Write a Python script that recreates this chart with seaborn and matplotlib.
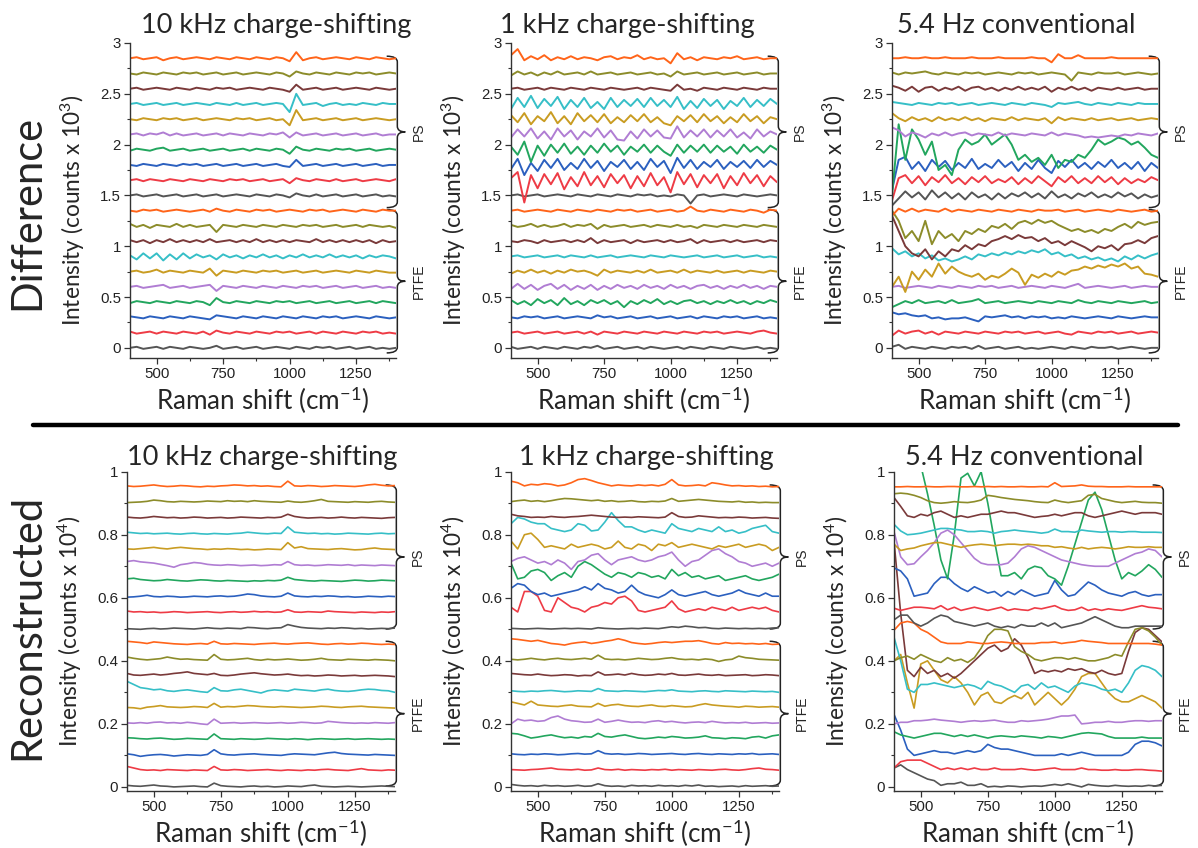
import numpy as np
import pandas as pd
import matplotlib
matplotlib.use('Agg')
import matplotlib.pyplot as plt
import seaborn as sns
from matplotlib.path import Path
from matplotlib.patches import PathPatch
from matplotlib.lines import Line2D
from matplotlib.ticker import AutoMinorLocator

# ─────────────────────────────────────────
# Data: each trace = baseline + deviations (sampled 400..1400 cm-1, step 25)
# traces ordered bottom -> top: PTFE (10) then PS (10)
# ─────────────────────────────────────────
DIFF_OFFSETS = [0.00, 0.15, 0.30, 0.45, 0.60, 0.75, 0.90, 1.05, 1.20, 1.35,
                1.50, 1.65, 1.80, 1.95, 2.10, 2.25, 2.40, 2.55, 2.70, 2.85]
RECON_OFFSETS = [0.00, 0.05, 0.10, 0.15, 0.20, 0.25, 0.30, 0.35, 0.40, 0.45,
                 0.50, 0.55, 0.60, 0.65, 0.70, 0.75, 0.80, 0.85, 0.90, 0.95]
DIFF_UNIT = 0.01    # deviations in 0.01 x 10^3 counts
RECON_UNIT = 0.001  # deviations in 0.001 x 10^4 counts

TRACE_COLOURS = ['#555555', '#ee3b45', '#2b60bf', '#22a65e', '#b07dd3',
                 '#c99c22', '#36bfc7', '#7a3a3a', '#8c8c2a', '#ff6419'] * 2

# Difference, 10 kHz charge-shifting
DIFF_10K = [
    [0,1,-1,0,1,-1,1,0,-1,1,0,-1,0,2,-1,0,1,-1,0,1,-1,0,1,0,-1,1,0,-1,1,0,1,-1,0,1,-1,0,1,-1,0,-1,0],
    [1,-1,0,1,-1,1,0,-1,1,0,-1,1,-2,2,0,-1,1,0,-1,1,0,-1,1,0,1,-1,0,1,-1,1,0,-1,1,0,-1,1,0,1,-1,0,-1],
    [1,0,-1,1,0,-1,1,0,-1,1,0,-1,-2,2,1,0,-1,1,0,-1,1,0,-1,1,0,-1,1,0,-1,1,0,1,-1,0,1,0,-1,1,0,-1,0],
    [-1,1,0,-1,1,0,-1,1,0,-1,1,0,-3,4,0,-1,1,0,-1,1,0,-1,1,0,1,-1,0,1,-1,0,1,-1,0,1,-1,0,1,-1,1,0,-1],
    [0,1,-1,0,1,2,-1,0,1,-1,0,1,2,-4,1,0,-1,1,0,-1,1,0,-1,1,0,-1,1,0,1,-1,0,1,-1,0,1,-1,0,1,-1,0,-1],
    [0,1,-1,0,2,-1,1,0,-1,1,0,-1,3,-4,1,0,-1,1,0,-1,1,0,1,-1,0,1,-1,0,1,-1,0,1,0,-1,1,0,-1,1,0,-1,-1],
    [1,-3,3,-2,3,-4,2,-3,3,-2,2,-1,1,-3,2,-1,1,-2,1,-1,2,-1,1,-2,1,-1,2,-1,1,-1,2,-1,1,-1,1,-2,1,-1,1,0,-2],
    [1,-1,1,-2,1,-1,2,-1,1,-1,1,-1,2,-1,0,1,-1,1,-1,2,-1,1,-1,1,-1,1,0,-1,2,-1,1,-1,1,-1,1,-1,1,-2,1,-1,0],
    [2,-1,1,-2,1,0,-1,2,-1,1,-1,0,1,-6,1,0,-1,1,0,-1,1,0,-1,1,0,-1,1,0,1,-1,0,1,-1,0,1,-1,1,0,-1,0,-2],
    [0,-1,1,0,1,-1,0,1,0,-1,0,1,-1,2,0,-1,1,0,-1,1,0,1,-1,0,1,0,-1,1,0,1,-1,0,1,0,-1,1,0,-1,1,0,0],
    [0,1,-1,0,1,-1,0,1,-1,0,1,-1,0,1,-1,0,1,0,-1,1,0,-1,1,0,-2,2,0,-1,1,-1,0,1,-1,0,1,-1,0,1,-1,0,-1],
    [0,1,-1,1,0,-1,1,0,-1,1,0,-1,1,0,-1,1,0,1,-1,0,1,-1,0,1,-3,2,0,-1,1,0,-1,1,-1,0,1,-1,0,1,0,-1,1],
    [0,-1,1,0,-1,1,0,-1,1,0,1,-1,0,1,-1,0,1,-1,0,1,-1,0,1,-1,-2,5,-1,0,1,-1,0,1,-1,0,1,-1,0,1,-1,0,0],
    [-1,1,0,-1,1,2,-1,0,1,-1,0,1,-1,0,1,-1,0,1,-1,1,0,-1,1,0,-4,3,0,-1,1,0,-1,1,0,1,-1,0,1,-1,0,1,0],
    [0,1,-1,1,0,2,-1,1,-1,0,1,-1,0,1,-1,1,0,-1,1,0,-1,1,0,2,-3,2,-1,0,1,-1,0,1,-1,0,1,-1,0,1,-1,0,0],
    [0,-1,1,0,-1,1,0,1,-1,0,1,-1,0,1,0,-1,1,0,1,-1,0,1,-1,0,-6,9,-1,0,1,-1,0,1,-1,0,1,-1,0,1,0,-1,0],
    [0,1,-1,0,1,-1,0,1,-1,0,1,0,-1,1,0,-1,1,-1,0,1,-1,0,1,0,-8,10,-1,0,1,-2,0,1,-1,0,-1,1,0,-1,1,0,0],
    [0,1,-1,0,1,0,-1,1,0,-1,1,0,-1,1,0,1,-1,0,1,0,-1,1,0,-1,-3,4,-1,0,1,-1,0,1,-1,0,1,0,-1,1,0,-1,0],
    [0,-1,1,0,-1,1,0,-1,1,0,1,-1,0,1,-1,0,1,-1,0,1,0,-1,1,0,-3,2,0,-1,1,0,-1,1,0,-1,1,0,1,-1,0,1,0],
    [0,1,-1,0,1,-2,0,1,-1,0,1,0,-1,1,0,-1,1,0,-1,1,0,-1,1,0,-3,6,-2,0,1,-1,0,1,0,-1,1,0,-1,1,0,-1,0],
]

# Difference, 1 kHz charge-shifting
DIFF_1K = [
    [1,-1,0,1,-1,1,0,-1,1,0,-1,1,0,2,-1,0,1,-1,0,1,-1,1,0,-1,0,1,-1,1,0,-1,1,0,-1,1,0,-1,0,1,-1,0,-1],
    [0,1,-1,0,1,-1,0,1,-1,0,1,-1,1,-2,1,0,-1,1,0,-1,1,0,-1,1,0,-1,1,0,-1,1,0,1,-1,0,1,0,-1,1,2,0,-1],
    [0,-1,1,0,1,-1,0,1,-1,0,1,0,-1,2,0,1,-1,0,1,-1,0,1,-1,0,1,-1,0,1,-1,1,0,-1,1,0,1,-1,0,1,-1,0,-1],
    [2,-2,1,-3,3,-1,2,-3,4,-2,1,-3,2,-1,2,-2,1,-5,1,-2,2,-1,3,-2,1,-2,1,2,-1,1,-2,1,-1,2,-1,1,-2,1,-1,2,0],
    [-2,3,-2,2,-3,1,3,-2,2,-3,1,-2,2,-3,1,-2,2,-1,1,-2,2,-1,1,-2,2,-1,1,-2,1,2,-1,1,-2,1,-1,2,-1,1,-2,1,0],
    [-2,1,-1,2,-1,1,-2,1,-1,2,0,1,-1,-4,2,-1,1,0,-1,1,-1,2,-1,0,1,-1,2,-1,1,0,-1,1,-1,0,1,-1,1,0,-1,1,0],
    [0,1,-1,0,1,-1,0,1,-1,1,0,-1,1,-1,0,1,-1,0,1,0,-1,1,0,-1,1,0,-1,0,1,-1,0,1,-1,0,1,-1,0,1,-1,0,-1],
    [0,-1,1,0,-2,1,-1,0,1,-1,1,-1,3,-2,1,-1,0,1,-2,1,-1,0,1,-1,1,-1,0,2,-2,1,-1,0,1,-1,1,-1,0,1,-1,1,0],
    [1,-1,0,2,-1,1,-1,0,2,-1,1,0,2,-3,1,-1,0,1,-1,0,1,-1,1,0,-1,1,-1,0,-2,1,0,-1,1,0,-1,1,0,-1,1,0,-1],
    [0,1,-1,0,1,0,-1,1,0,-1,1,0,-1,1,0,-1,1,0,1,-1,0,1,-1,0,1,-1,0,4,0,-1,1,0,-1,1,0,-1,1,0,-2,1,0],
    [0,1,-1,0,1,-1,0,1,0,-1,1,0,-1,1,0,-1,1,0,-1,1,0,1,-1,0,-1,1,0,-8,0,1,-1,0,1,0,-1,1,0,-1,0,1,0],
    [2,8,-22,5,-8,6,-4,7,-9,3,-6,8,-5,4,-7,6,-3,5,-8,4,-6,7,-5,3,-12,8,-4,6,-7,5,-3,6,-8,4,-5,7,-3,5,-6,4,-2],
    [-4,6,-10,2,-6,5,-3,6,-5,2,-4,6,-3,4,-6,3,-2,5,-4,3,-5,6,-2,4,-8,7,-3,5,-4,3,-2,5,-4,3,-2,4,-3,5,-2,4,0],
    [3,-5,8,-12,4,-6,5,-3,6,-4,3,-5,4,-3,6,-2,4,-5,3,-2,5,-3,4,-2,-6,5,-3,4,-2,5,-3,4,-2,3,-4,5,-2,3,-3,4,0],
    [-3,5,-2,6,-4,3,-5,6,-2,4,-5,3,-2,6,-3,4,-5,-6,3,-4,5,-2,4,-3,-4,8,-3,4,-2,5,-3,4,-2,5,-3,2,-4,5,-2,3,0],
    [4,-3,6,-5,3,-2,7,-4,3,-5,6,-2,4,-3,5,-4,2,-3,4,-2,5,-3,2,-4,-6,3,-2,4,-3,5,-2,3,-4,2,-3,5,-2,3,-4,2,0],
    [-5,6,-3,8,-4,5,-2,7,-5,4,-3,6,-4,2,-5,6,-3,4,-2,5,-3,6,-2,4,-3,7,-5,3,-4,5,-2,4,-5,3,-2,6,-3,4,-2,5,0],
    [0,1,-1,0,1,-1,1,0,-1,1,0,-1,1,0,-1,1,0,-1,0,1,-1,1,0,-1,-2,4,-1,0,-2,1,0,-1,1,0,-1,1,0,-1,1,0,0],
    [-2,2,-1,1,-2,1,-1,2,-1,0,1,-1,2,-1,0,1,-1,0,1,-1,0,1,-1,0,-3,2,-1,0,1,-1,0,1,-1,0,1,-1,0,1,-1,0,0],
    [3,9,-2,2,-1,3,-2,1,-1,2,-1,1,0,-2,1,2,-1,1,0,3,-1,1,-1,0,-5,5,-1,1,-2,1,0,-1,1,0,2,-1,0,1,-1,0,0],
]

# Difference, 5.4 Hz conventional
DIFF_54 = [
    [1,3,-1,1,0,-1,1,0,-1,1,0,1,-1,2,-1,0,1,-1,0,1,-1,0,-1,0,1,0,-1,1,0,-1,1,0,0,1,-1,0,1,0,-1,0,0],
    [-3,2,-1,1,2,-1,1,-2,1,0,-1,1,0,-1,1,0,-1,1,0,1,-1,0,1,-1,0,1,-1,-2,1,0,-1,1,0,1,-1,0,1,-1,0,1,0],
    [5,3,4,2,1,2,-1,0,-2,-1,-1,0,-2,-4,1,0,1,2,0,1,-1,1,0,1,-1,0,-1,1,0,-1,0,1,0,-1,1,0,-1,0,1,0,0],
    [-5,-2,1,-1,2,-1,0,1,-1,2,-1,0,1,3,-1,0,1,-1,0,1,0,-1,1,0,-1,1,0,-1,2,0,-1,1,0,-1,1,0,-1,0,1,-1,0],
    [0,1,-1,0,1,0,-1,1,0,-1,1,0,-1,1,0,1,-1,0,1,-1,0,1,0,-1,1,0,-1,1,3,-1,0,1,0,-1,0,1,-1,0,1,0,0],
    [-15,-5,-20,0,-8,2,-5,8,-2,5,0,-3,-5,-2,-8,-4,-6,-2,3,-1,-13,-3,-6,-2,-5,0,-3,1,2,5,3,6,4,7,5,8,3,5,-2,-3,-5],
    [8,2,5,0,3,-2,1,-4,-2,-5,-3,0,-3,2,0,3,1,4,2,5,3,6,4,7,2,4,0,2,-2,0,-3,-1,-4,-2,-5,0,-3,1,-2,1,3],
    [25,10,-5,-12,-15,-8,-18,-10,-15,-8,-10,-4,-8,-3,-5,0,2,5,2,6,3,4,0,3,-2,0,-4,0,-3,-6,-10,-5,-7,-4,-9,-3,-2,1,-2,3,5],
    [15,5,-12,-5,-15,5,-18,-5,-12,-8,-15,-5,-8,-3,-6,0,-2,2,-3,3,5,2,6,3,5,1,-2,-5,-3,-6,-4,-7,-3,-5,-1,2,-2,4,1,3,4],
    [-5,2,-1,2,-1,1,0,-1,2,-1,1,0,-1,1,0,-1,1,0,-1,1,0,-1,1,0,0,1,-1,0,1,-1,0,1,0,-1,1,0,-1,0,1,-1,0],
    [-10,-3,4,-2,3,-4,5,-2,3,-3,2,-4,3,-2,1,-4,2,-3,2,-1,3,-2,2,-3,4,-2,1,-3,2,-1,3,-2,1,-2,3,-1,2,-3,1,-2,0],
    [-20,2,5,-3,4,-5,3,-2,5,-3,2,-4,3,-2,4,-3,1,-2,3,-4,2,-3,4,-1,-6,3,-2,4,-3,2,-3,4,-2,3,-4,2,-3,1,-2,3,0],
    [-25,5,8,-4,3,-6,5,-2,4,-5,2,-3,6,-4,1,-3,5,-2,3,-6,2,-4,5,-3,-8,4,-2,5,-3,2,-4,3,-2,5,-3,2,-4,3,-6,2,-3],
    [-45,25,-10,20,10,-5,8,-20,-15,-25,0,10,5,8,15,5,10,15,5,-10,-5,-12,-8,-15,-5,-18,-10,-12,-5,-8,0,10,5,8,12,10,5,8,2,-5,-8],
    [7,4,-2,2,0,-3,1,-1,2,-1,1,2,-1,1,0,-1,2,-1,1,0,-1,1,0,-1,2,-1,1,0,-1,-3,-2,-3,-2,-1,-2,0,-1,1,0,-1,1],
    [6,1,-2,2,-1,1,-2,2,-1,1,-1,2,-1,1,-2,1,0,-1,2,-1,1,0,-1,1,-4,2,-1,1,0,-1,1,-1,0,1,-1,0,1,-1,0,1,0],
    [2,1,0,-1,1,0,-1,1,0,1,-1,0,1,-1,0,1,0,-1,1,0,-1,1,0,-1,-3,1,0,1,2,0,-1,1,0,-1,1,0,-1,1,0,0,0],
    [3,1,-2,2,-3,1,2,-2,1,-1,2,-2,1,2,-1,1,-2,1,-1,2,-1,1,-1,2,-3,1,-1,2,-1,1,-2,1,0,-1,1,-1,0,1,-1,0,0],
    [1,-1,1,0,1,2,0,-1,1,0,-1,1,0,1,-1,0,1,0,-1,1,0,1,-1,0,1,0,-1,-7,1,0,-1,1,0,0,1,-1,0,1,0,-1,0],
    [0,0,1,0,0,1,0,0,1,0,0,0,1,0,0,0,1,0,0,0,0,1,0,0,-4,4,0,0,3,0,0,0,0,1,0,0,0,0,0,0,0],
]

# Reconstructed, 10 kHz charge-shifting
RECON_10K = [
    [5,3,2,4,6,3,2,0,1,2,3,1,0,12,4,2,1,0,2,3,1,2,0,1,3,2,1,4,6,2,1,0,1,2,1,0,1,2,3,2,1],
    [15,10,5,3,4,2,5,4,3,2,4,3,2,15,4,3,5,4,2,3,4,5,3,2,4,3,2,4,3,5,6,4,3,2,5,8,4,3,2,4,3],
    [5,2,-3,0,2,3,1,-2,0,2,1,0,3,18,5,2,1,3,4,5,3,2,1,0,3,5,4,3,2,5,8,10,6,4,3,2,1,3,2,1,0],
    [6,5,3,2,4,5,3,1,2,4,3,2,1,18,3,2,1,3,2,1,2,4,3,2,1,3,2,0,2,3,2,1,2,3,1,2,3,2,1,2,1],
    [3,2,4,2,5,6,3,4,2,5,3,0,-2,15,2,3,4,2,3,4,3,2,3,4,2,3,5,4,2,3,8,6,4,3,2,3,2,4,3,2,4],
    [2,1,-2,3,5,8,4,3,2,3,5,4,2,15,3,5,4,6,8,7,5,4,3,5,4,3,2,3,4,6,5,3,2,4,5,6,4,3,2,1,0],
    [35,25,15,12,8,10,5,3,6,8,5,2,0,15,5,4,8,10,6,2,-2,5,8,6,4,10,8,6,4,8,10,6,4,3,5,8,10,9,6,5,0],
    [10,5,4,6,8,5,7,10,12,15,10,8,6,10,4,3,5,8,10,12,9,7,5,6,8,5,3,4,2,3,5,4,2,3,4,2,3,4,3,2,0],
    [12,8,5,3,5,7,12,8,5,6,4,3,2,20,5,3,4,6,8,4,2,5,3,4,6,4,2,3,5,8,4,3,2,5,4,3,2,4,3,2,0],
    [12,10,8,5,10,8,6,4,3,2,4,5,3,12,4,3,5,4,3,2,4,5,6,4,3,5,6,7,5,3,2,4,5,3,4,6,5,3,2,3,2],
    [2,1,0,2,3,1,2,4,3,2,1,3,5,3,2,4,3,2,6,5,3,2,4,5,15,10,6,4,3,2,4,3,5,4,2,3,1,2,3,2,4],
    [8,5,6,4,5,3,4,6,5,3,4,5,6,4,3,5,6,4,5,7,5,6,4,5,12,5,4,6,5,4,8,6,5,4,3,5,4,3,5,4,6],
    [2,3,5,8,4,3,5,4,2,3,5,4,3,5,6,4,5,8,12,10,6,4,3,5,15,6,4,3,5,4,6,5,3,4,2,3,5,4,3,5,4],
    [10,12,8,6,4,5,8,6,4,3,5,7,6,4,3,5,4,3,2,4,3,5,4,6,15,8,6,4,3,5,4,3,2,4,6,5,3,4,6,5,4],
    [15,18,14,12,10,6,2,-3,5,8,12,10,6,4,3,5,4,2,3,4,2,3,5,4,15,5,3,4,2,3,5,4,3,5,2,4,3,2,4,3,2],
    [5,4,6,8,10,7,5,8,10,8,6,5,3,5,4,6,5,3,4,2,3,5,4,3,25,8,12,6,5,4,3,5,6,4,2,3,6,8,5,4,3],
    [8,6,4,5,3,4,5,3,2,4,5,3,2,4,3,2,4,5,8,6,4,3,5,4,25,8,6,4,5,3,4,2,3,5,4,3,2,4,5,3,4],
    [6,4,3,5,8,6,4,5,3,4,6,5,3,4,5,3,4,6,5,4,3,5,4,6,15,8,5,3,4,5,3,4,6,4,3,5,4,3,2,4,5],
    [2,3,4,6,10,8,5,4,6,5,4,5,7,6,5,8,6,7,5,8,6,5,4,3,7,4,3,5,8,12,6,5,4,3,5,4,3,5,6,4,3],
    [5,3,4,6,8,5,3,4,6,5,3,2,4,3,5,6,8,7,5,6,4,5,3,2,20,5,4,6,5,3,4,6,5,4,3,5,8,10,7,5,6],
]

# Reconstructed, 1 kHz charge-shifting
RECON_1K = [
    [8,5,3,4,2,5,3,4,2,3,5,2,3,10,4,2,3,1,5,3,4,2,5,3,4,2,5,3,6,2,3,1,2,3,1,4,2,3,4,2,3],
    [5,4,3,5,6,8,10,6,5,4,6,3,4,10,5,4,6,3,5,4,3,5,4,6,3,5,4,3,5,4,3,5,6,4,3,5,8,10,6,5,3],
    [5,3,2,4,3,5,4,2,3,5,6,4,5,15,6,4,5,3,4,6,5,3,4,5,6,4,3,5,6,4,3,5,4,3,5,4,6,3,4,5,3],
    [20,18,12,5,8,12,15,10,6,8,5,10,8,20,10,8,12,15,10,5,3,5,8,6,10,8,5,6,8,12,6,5,3,6,5,3,8,10,5,12,15],
    [0,15,10,12,8,10,20,25,15,10,8,5,6,15,5,8,12,8,5,6,4,8,10,6,8,5,3,5,6,4,8,5,3,4,3,5,2,3,4,2,3],
    [20,15,10,22,10,8,6,5,8,10,6,5,4,15,6,10,12,8,6,5,8,10,6,5,8,6,4,5,10,14,10,8,6,5,3,6,5,3,4,5,3],
    [5,3,2,4,3,5,6,4,2,3,5,4,3,12,5,4,3,5,4,3,2,4,6,5,8,4,3,2,4,5,3,2,5,4,3,2,4,3,2,3,0],
    [10,8,6,5,8,5,3,4,6,5,2,4,3,15,5,6,8,5,10,6,4,5,8,6,10,5,4,6,8,5,4,6,3,4,5,6,3,4,6,5,3],
    [5,3,5,8,5,3,6,8,5,4,6,8,5,18,6,4,5,3,5,8,6,4,5,8,10,6,4,5,3,6,4,-2,3,5,15,10,8,5,4,3,2],
    [20,18,15,12,15,10,5,3,0,5,8,10,5,8,12,15,20,15,8,5,3,5,8,10,8,10,12,12,14,10,5,3,8,5,6,4,5,3,5,2,3],
    [3,2,1,2,3,2,1,2,3,2,3,2,1,5,3,2,1,2,3,2,4,3,2,5,8,6,10,8,5,6,3,2,4,3,2,3,2,3,2,4,5],
    [20,5,70,70,55,10,5,50,35,20,15,5,20,25,35,30,50,55,40,10,5,10,15,20,40,15,5,10,15,10,20,15,10,20,10,15,20,15,20,10,5],
    [30,45,40,20,10,15,5,10,15,20,25,35,25,45,30,25,15,20,40,20,10,5,0,10,25,10,5,10,15,20,10,5,10,15,25,15,10,5,15,5,5],
    [60,10,15,35,40,30,5,20,30,15,50,65,55,40,25,15,30,25,15,30,25,15,20,10,40,20,30,15,20,10,15,20,5,10,15,20,10,5,10,15,25],
    [15,25,30,20,10,15,5,20,10,-10,15,20,35,40,20,5,20,25,30,20,15,20,30,35,45,20,0,15,20,35,50,55,40,30,15,10,0,5,10,0,10],
    [30,5,50,55,35,10,15,10,5,20,10,15,20,15,5,10,30,10,5,20,15,0,20,15,25,10,15,20,15,10,5,15,10,15,20,10,15,20,15,0,10],
    [35,55,50,40,35,35,20,15,10,15,35,30,12,15,40,70,45,25,25,15,8,15,10,5,35,20,15,10,20,15,10,25,10,15,5,10,20,25,30,10,5],
    [15,10,8,5,6,5,8,6,5,7,8,10,12,10,8,6,5,6,5,7,6,5,4,6,20,8,5,6,10,8,6,4,5,4,6,5,3,4,5,3,2],
    [5,8,10,6,8,5,8,12,15,14,12,10,8,10,6,8,5,6,8,5,4,6,5,7,15,6,8,10,12,10,8,6,5,4,6,3,4,2,3,2,2],
    [20,15,5,10,8,12,10,5,8,15,25,28,22,15,10,5,8,6,5,8,6,8,5,10,25,8,5,6,8,5,15,12,8,5,6,4,5,3,4,2,3],
]

# Reconstructed, 5.4 Hz conventional
RECON_54 = [
    [60,70,55,45,35,25,20,5,10,10,15,5,5,10,0,2,0,3,2,0,2,3,2,5,8,5,10,5,0,8,5,3,2,5,3,2,3,2,5,3,5],
    [10,30,35,35,35,25,15,5,10,5,10,5,10,5,5,10,5,5,5,8,5,3,5,8,10,5,5,5,10,5,5,3,3,5,3,3,5,5,3,2,0],
    [130,80,20,0,5,10,15,10,10,5,10,15,10,15,35,25,20,20,15,10,5,0,0,0,0,5,0,5,10,5,0,0,0,0,0,10,35,45,45,40,30],
    [25,15,10,5,10,15,20,20,15,10,15,10,15,10,5,10,12,10,8,12,10,8,5,10,8,5,10,15,20,22,20,18,10,5,5,5,5,8,5,5,5],
    [0,5,5,10,10,12,15,12,10,8,5,8,10,8,10,12,8,5,5,10,8,10,12,15,20,25,25,28,0,2,5,5,8,5,5,8,10,10,8,10,10],
    [150,170,80,0,140,150,120,90,80,100,80,50,10,40,50,20,15,30,40,30,50,10,30,50,30,10,30,60,100,110,110,80,50,30,20,20,30,40,30,20,0],
    [175,100,10,0,25,25,30,25,20,15,20,25,20,10,35,25,20,10,0,20,25,10,30,15,20,10,0,20,30,25,20,10,5,10,0,30,70,85,80,70,50],
    [430,200,20,0,30,10,20,0,10,-5,10,30,50,70,90,100,80,90,120,100,60,10,20,15,20,15,25,20,25,15,10,20,10,5,10,80,140,155,150,130,110],
    [0,10,15,5,20,10,0,-5,10,0,5,-5,10,40,80,100,100,95,45,30,20,5,0,5,10,10,5,10,5,0,0,5,10,20,15,60,100,105,95,75,50],
    [47,70,75,70,50,40,25,10,5,5,5,10,8,5,5,8,10,8,5,5,5,5,8,8,10,5,8,10,15,12,10,8,5,5,5,5,5,5,5,3,0],
    [30,45,45,20,10,20,35,45,40,25,20,15,10,15,20,10,5,10,5,15,10,10,20,10,20,5,10,15,20,30,40,30,20,10,5,5,10,10,10,10,10],
    [17,10,15,20,20,18,15,25,12,20,10,15,20,15,10,15,20,10,15,12,10,18,15,20,25,15,10,12,20,10,15,10,15,12,10,15,20,25,20,18,15],
    [95,85,60,5,10,15,45,65,65,45,30,20,35,25,15,20,5,20,10,25,15,5,10,15,55,25,5,10,30,50,40,25,15,10,5,15,20,10,5,10,10],
    [450,450,450,450,370,280,180,70,10,150,330,345,305,350,250,130,20,20,30,10,40,50,45,20,10,-10,50,120,190,260,285,230,150,70,10,30,20,35,55,40,15],
    [110,30,5,8,30,50,75,105,115,100,75,50,25,10,5,5,5,10,30,55,65,60,50,40,30,20,15,10,5,2,0,0,0,10,20,30,40,45,55,50,30],
    [20,0,5,8,15,20,25,25,20,15,10,15,18,20,18,15,18,20,20,18,20,18,15,15,10,12,8,5,10,5,8,10,8,5,8,12,10,10,12,10,10],
    [33,12,0,2,5,10,15,20,20,17,15,10,10,12,10,5,10,12,15,12,10,8,5,8,18,10,10,8,15,12,10,8,10,10,8,10,10,8,8,8,7],
    [68,40,10,5,15,10,20,25,15,5,10,5,10,15,15,20,25,20,20,15,10,5,8,10,15,10,15,20,20,10,5,10,15,20,25,20,15,20,20,20,15],
    [30,32,30,25,18,8,2,0,2,5,3,2,5,10,25,22,18,15,12,10,8,5,3,2,10,5,2,5,8,25,28,15,10,5,2,4,6,3,2,2,0],
    [2,2,3,2,2,3,2,2,3,3,2,2,3,2,3,2,3,2,2,3,2,2,3,2,15,3,4,5,8,4,3,3,2,2,2,3,2,2,2,2,2],
]

PANEL_TITLES = ['10 kHz charge-shifting', '1 kHz charge-shifting', '5.4 Hz conventional']
DIFF_YTICKS = [0, 0.5, 1, 1.5, 2, 2.5, 3]
DIFF_YLABELS = ['0', '0.5', '1', '1.5', '2', '2.5', '3']
RECON_YTICKS = [0, 0.2, 0.4, 0.6, 0.8, 1]
RECON_YLABELS = ['0', '0.2', '0.4', '0.6', '0.8', '1']
X_TICKS = [500, 750, 1000, 1250]

# ─────────────────────────────────────────
# Style
# ─────────────────────────────────────────
sns.set_style('ticks')
plt.rcParams['font.family'] = ['Lato', 'DejaVu Sans']
plt.rcParams['mathtext.fontset'] = 'custom'
plt.rcParams['mathtext.rm'] = 'Lato'
plt.rcParams['mathtext.it'] = 'Lato:italic'
TICK_FONT = ['Liberation Sans', 'DejaVu Sans']


def build_frame(devs, offsets, unit):
    frames = []
    for k, (dev, off) in enumerate(zip(devs, offsets)):
        shift = np.linspace(400, 1400, len(dev))
        frames.append(pd.DataFrame({'shift': shift,
                                    'intensity': off + np.asarray(dev) * unit,
                                    'trace': k}))
    return pd.concat(frames, ignore_index=True)


def draw_brace(ax, y0, y1, ylim):
    # brace in axes-fraction coordinates, outside right end of the x-axis
    f = lambda v: (v - ylim[0]) / (ylim[1] - ylim[0])
    b, t = f(y0), f(y1)
    m = (b + t) / 2
    r = 0.018
    xl, x0, xr = 0.965, 1.005, 1.035
    verts = [(xl, t), (x0, t), (x0, t - r),
             (x0, m + r), (x0, m), (xr, m),
             (x0, m), (x0, m - r),
             (x0, b + r), (x0, b), (xl, b)]
    codes = [Path.MOVETO, Path.CURVE3, Path.CURVE3,
             Path.LINETO, Path.CURVE3, Path.CURVE3,
             Path.CURVE3, Path.CURVE3,
             Path.LINETO, Path.CURVE3, Path.CURVE3]
    patch = PathPatch(Path(verts, codes), transform=ax.transAxes, fill=False,
                      lw=1.1, color='#222222', clip_on=False)
    ax.add_patch(patch)
    return m


def style_axes(ax, yticks, ylabels, ylim):
    ax.set_xlim(400, 1400)
    ax.set_ylim(*ylim)
    ax.set_xticks(X_TICKS)
    ax.set_yticks(yticks)
    ax.set_yticklabels(ylabels)
    ax.xaxis.set_minor_locator(AutoMinorLocator(2))
    ax.yaxis.set_minor_locator(AutoMinorLocator(2))
    ax.tick_params(which='major', direction='out', length=4.5, width=0.9,
                   labelsize=10.8, colors='#333333', pad=2)
    ax.tick_params(which='minor', direction='out', length=2.5, width=0.8,
                   colors='#333333')
    for lab in ax.get_xticklabels() + ax.get_yticklabels():
        lab.set_fontfamily(TICK_FONT)
        lab.set_color('#222222')
    sns.despine(ax=ax)
    for s in ('left', 'bottom'):
        ax.spines[s].set_linewidth(1.0)
        ax.spines[s].set_color('#333333')
    ax.set_xlabel('Raman shift (cm$^{-1}$)', fontsize=18.8, labelpad=3)


fig = plt.figure(figsize=(11.98, 8.48), dpi=100)
W, H = 1198, 848

top_lefts = [130, 511, 892]
bot_lefts = [127, 511, 894]
top_title_x = [0.549, 0.436, 0.468]
bot_title_x = [0.504, 0.504, 0.485]

diff_sets = [DIFF_10K, DIFF_1K, DIFF_54]
recon_sets = [RECON_10K, RECON_1K, RECON_54]

DIFF_LIM = (-0.1, 3.0)
RECON_LIM = (-0.012, 1.0)

for i in range(3):
    # Difference row
    ax = fig.add_axes([top_lefts[i] / W, 1 - 358 / H, 266 / W, 315 / H])
    df = build_frame(diff_sets[i], DIFF_OFFSETS, DIFF_UNIT)
    sns.lineplot(data=df, x='shift', y='intensity', hue='trace',
                 palette=TRACE_COLOURS, estimator=None, sort=False,
                 legend=False, lw=1.4, ax=ax)
    style_axes(ax, DIFF_YTICKS, DIFF_YLABELS, DIFF_LIM)
    ax.set_ylabel('Intensity (counts x 10$^{3}$)', fontsize=16.3)
    ax.yaxis.set_label_coords(-0.16, 0.47)
    ax.xaxis.set_label_coords(0.5, -0.085)
    ax.text(top_title_x[i], 1.057, PANEL_TITLES[i], transform=ax.transAxes,
            ha='center', va='center', fontsize=19.5)
    m = draw_brace(ax, 1.38, 2.87, DIFF_LIM)
    ax.text(1.085, m, 'PS', transform=ax.transAxes, rotation=90,
            ha='center', va='center', fontsize=10, family=TICK_FONT)
    m = draw_brace(ax, -0.05, 1.36, DIFF_LIM)
    ax.text(1.085, m, 'PTFE', transform=ax.transAxes, rotation=90,
            ha='center', va='center', fontsize=10, family=TICK_FONT)

    # Reconstructed row
    ax = fig.add_axes([bot_lefts[i] / W, 1 - 790.7 / H, 268 / W, 319 / H])
    df = build_frame(recon_sets[i], RECON_OFFSETS, RECON_UNIT)
    sns.lineplot(data=df, x='shift', y='intensity', hue='trace',
                 palette=TRACE_COLOURS, estimator=None, sort=False,
                 legend=False, lw=1.2, ax=ax)
    style_axes(ax, RECON_YTICKS, RECON_YLABELS, RECON_LIM)
    ax.set_ylabel('Intensity (counts x 10$^{4}$)', fontsize=16.3)
    ax.yaxis.set_label_coords(-0.16, 0.5)
    ax.xaxis.set_label_coords(0.5, -0.085)
    ax.text(bot_title_x[i], 1.045, PANEL_TITLES[i], transform=ax.transAxes,
            ha='center', va='center', fontsize=19.5)
    m = draw_brace(ax, 0.501, 0.958, RECON_LIM)
    ax.text(1.085, m, 'PS', transform=ax.transAxes, rotation=90,
            ha='center', va='center', fontsize=10, family=TICK_FONT)
    m = draw_brace(ax, 0.003, 0.462, RECON_LIM)
    ax.text(1.085, m, 'PTFE', transform=ax.transAxes, rotation=90,
            ha='center', va='center', fontsize=10, family=TICK_FONT)

# row labels + separator
fig.text(27 / W, 1 - 212 / H, 'Difference', rotation=90,
         ha='center', va='center', fontsize=30)
fig.text(27 / W, 1 - 627 / H, 'Reconstructed', rotation=90,
         ha='center', va='center', fontsize=30)
fig.add_artist(Line2D([33 / W, 1178 / W], [1 - 425 / H] * 2,
                      lw=3.2, color='black'))

fig.savefig('out.png', dpi=100)
